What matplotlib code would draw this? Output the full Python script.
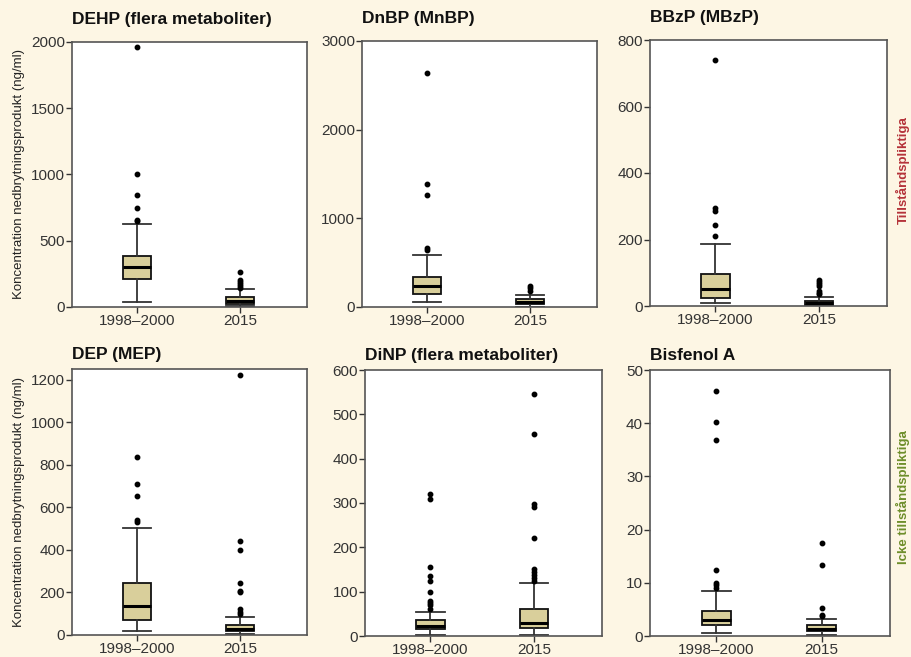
import matplotlib
matplotlib.use("Agg")
import matplotlib.pyplot as plt

plt.rcParams['font.family'] = ['Liberation Sans', 'DejaVu Sans']

groups = ['1998–2000', '2015']

titles = ['DEHP (flera metaboliter)', 'DnBP (MnBP)', 'BBzP (MBzP)',
          'DEP (MEP)', 'DiNP (flera metaboliter)', 'Bisfenol A']
ylims = [2000, 3000, 800, 1250, 600, 50]
yticks = [[0, 500, 1000, 1500, 2000], [0, 1000, 2000, 3000], [0, 200, 400, 600, 800],
          [0, 200, 400, 600, 800, 1000, 1200], [0, 100, 200, 300, 400, 500, 600],
          [0, 10, 20, 30, 40, 50]]

# (whislo, q1, med, q3, whishi) per group
dehp_stats = [(35, 215, 305, 385, 630), (5, 25, 45, 75, 135)]
dehp_fliers = [[1960, 1000, 845, 750, 660, 650], [265, 200, 185, 170, 155, 145]]
dnbp_stats = [(55, 150, 240, 340, 585), (5, 35, 60, 85, 140)]
dnbp_fliers = [[2640, 1390, 1260, 660, 640], [240, 210, 180]]
bbzp_stats = [(8, 25, 52, 97, 185), (0, 3, 8, 15, 28)]
bbzp_fliers = [[740, 295, 285, 245, 210], [78, 72, 65, 60, 45, 40, 35]]
dep_stats = [(20, 70, 135, 245, 505), (3, 18, 30, 45, 85)]
dep_fliers = [[835, 710, 655, 540, 530], [1220, 440, 400, 245, 205, 200, 120, 110, 100]]
dinp_stats = [(3, 15, 22, 35, 55), (3, 18, 30, 60, 120)]
dinp_fliers = [[320, 310, 155, 135, 123, 100, 80, 75, 70, 62],
               [545, 455, 298, 290, 222, 152, 145, 138, 130, 125]]
bpa_stats = [(0.5, 2, 3, 4.7, 8.5), (0.2, 1, 1.4, 2, 3.2)]
bpa_fliers = [[46, 40.3, 36.9, 12.5, 10, 9.5, 9], [17.5, 13.4, 5.2, 4, 3.7]]

all_stats = [dehp_stats, dnbp_stats, bbzp_stats, dep_stats, dinp_stats, bpa_stats]
all_fliers = [dehp_fliers, dnbp_fliers, bbzp_fliers, dep_fliers, dinp_fliers, bpa_fliers]

bg = '#FDF6E4'
fig = plt.figure(figsize=(9.11, 6.57), dpi=100, facecolor=bg)
W, H = 911, 657
# axes boxes in pixels: left, top, right, bottom
boxes = [(72, 42, 307, 307), (362, 41, 597, 307), (650, 40, 887, 306),
         (72, 369, 307, 635), (365, 370, 602, 636), (650, 370, 890, 636)]

for i in range(6):
    l, t, r, b = boxes[i]
    ax = fig.add_axes([l / W, 1 - b / H, (r - l) / W, (b - t) / H])
    stats = []
    for j in range(2):
        lo, q1, med, q3, hi = all_stats[i][j]
        stats.append(dict(whislo=lo, q1=q1, med=med, q3=q3, whishi=hi,
                          fliers=all_fliers[i][j], label=groups[j]))
    ax.bxp(stats, positions=[1, 2], widths=0.27, patch_artist=True,
           boxprops=dict(facecolor='#D9CF9B', edgecolor='#111111', linewidth=1.3),
           medianprops=dict(color='#000000', linewidth=2.2),
           whiskerprops=dict(color='#333333', linewidth=1.3),
           capprops=dict(color='#333333', linewidth=1.3),
           capwidths=0.27,
           flierprops=dict(marker='o', markersize=3.2, markerfacecolor='black',
                           markeredgecolor='black'))
    ax.set_xlim(0.37, 2.65)
    ax.set_ylim(0, ylims[i])
    ax.set_yticks(yticks[i])
    ax.set_xticks([1, 2])
    ax.set_xticklabels(groups)
    ax.tick_params(axis='both', labelsize=11, colors='#333333', length=4,
                   width=1, pad=1)
    for s in ax.spines.values():
        s.set_color('#555555')
        s.set_linewidth(1.2)
    ax.set_title(titles[i], loc='left', fontsize=12.5, fontweight='bold',
                 x=0.0, pad=13 if i < 3 else 7, color='#111111')
    if i in (0, 3):
        ax.set_ylabel('Koncentration nedbrytningsprodukt (ng/ml)', fontsize=9.5,
                      color='#222222', labelpad=4)

fig.text(903 / W, 1 - 170 / H, 'Tillståndspliktiga', rotation=90, color='#B5333A',
         fontsize=9.5, fontweight='bold', ha='center', va='center')
fig.text(903 / W, 1 - 497 / H, 'Icke tillståndspliktiga', rotation=90, color='#6E8E2A',
         fontsize=9.5, fontweight='bold', ha='center', va='center')

fig.savefig('out.png', dpi=100, facecolor=bg)
